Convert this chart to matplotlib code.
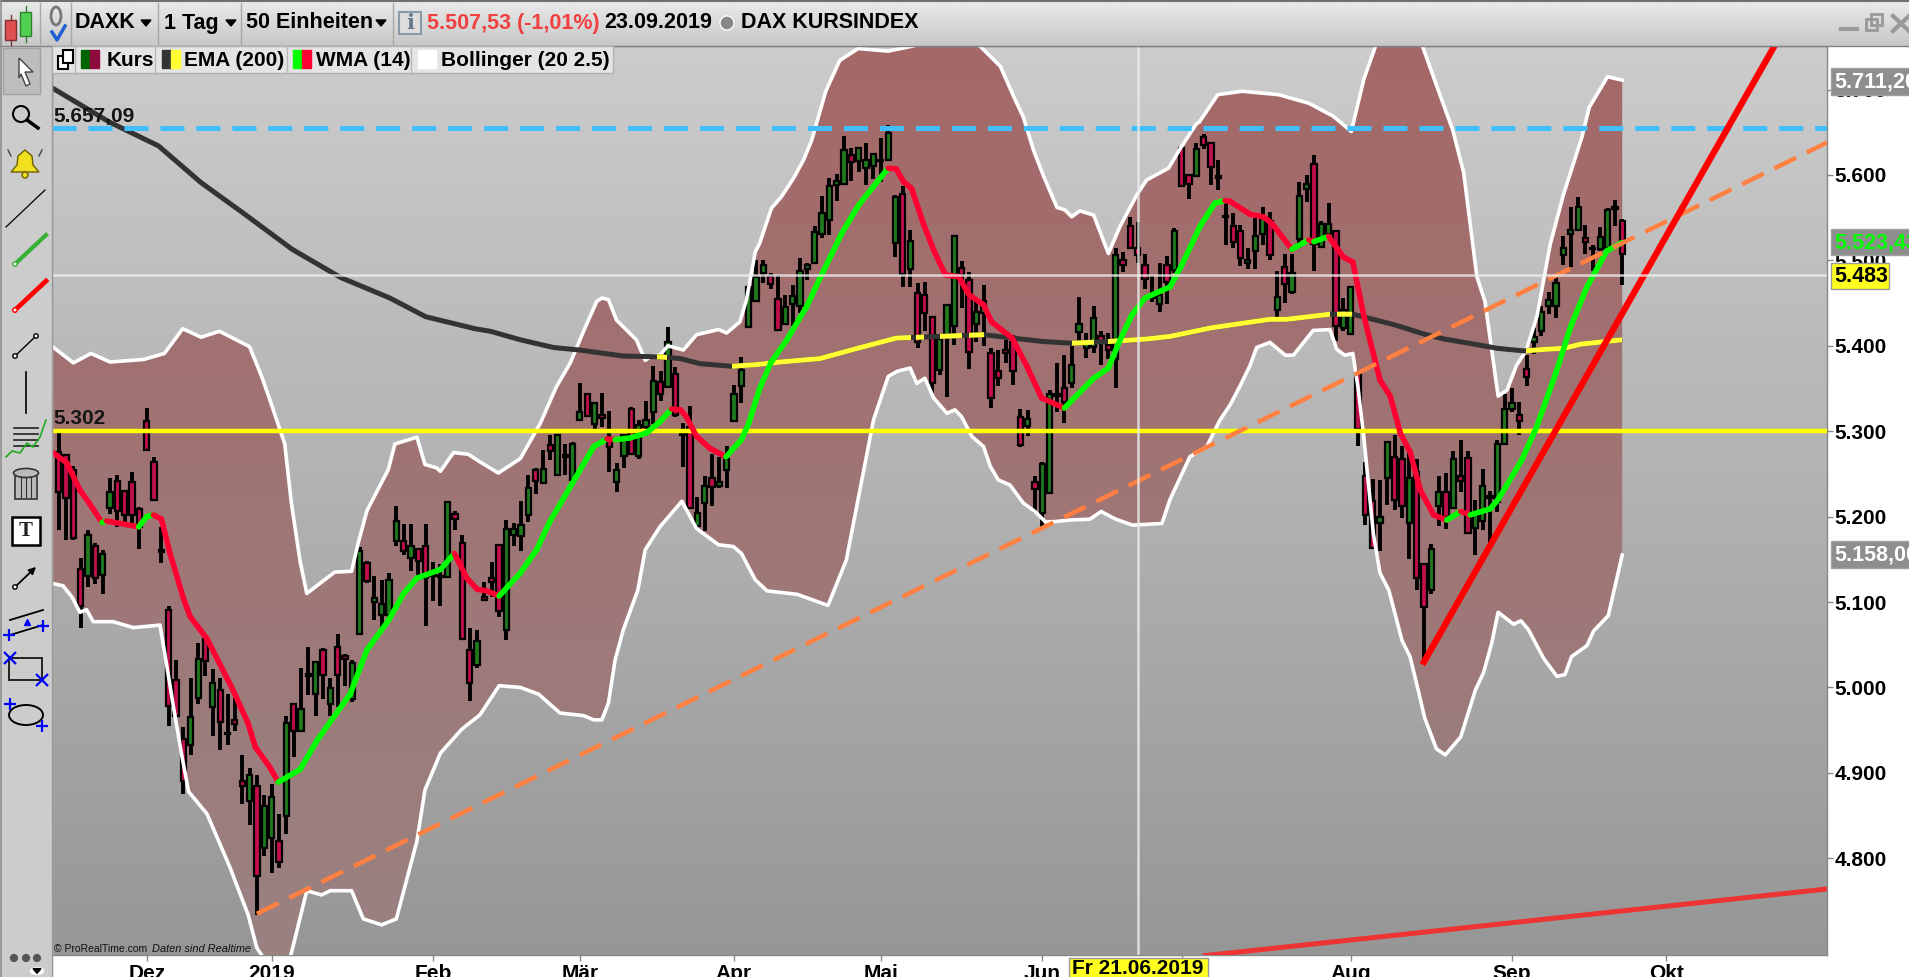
import matplotlib
matplotlib.use("Agg")
import matplotlib.pyplot as plt
import numpy as np
from matplotlib.patches import Rectangle, Polygon, Circle, Ellipse

plt.rcParams['font.family'] = ['Liberation Sans', 'DejaVu Sans']
plt.rcParams['lines.scale_dashes'] = False

# daily candles, one row per ten bars
highs = [5298,5272,5259,5151,5184,5169,5161,5245,5249,5231,
         5252,5211,5327,5270,5188,5095,5032,4954,5011,5052,
         5058,5021,5011,4992,4988,4921,4906,4897,4874,4887,
         4852,4966,4980,5023,5047,5031,5046,5011,5062,5039,
         5032,5164,5148,5131,5126,5134,5212,5191,5191,5163,
         5191,5147,5145,5218,5207,5179,5069,5067,5123,5147,
         5168,5196,5193,5218,5249,5257,5278,5296,5297,5285,
         5287,5356,5344,5333,5345,5324,5263,5296,5328,5313,
         5335,5376,5370,5422,5375,5310,5330,5223,5248,5273,
         5270,5283,5354,5387,5472,5501,5501,5485,5483,5460,
         5471,5503,5497,5540,5575,5597,5601,5646,5632,5633,
         5638,5625,5643,5659,5577,5587,5535,5474,5475,5435,
         5413,5449,5528,5499,5486,5452,5471,5397,5395,5407,
         5413,5326,5325,5247,5264,5348,5380,5389,5400,5457,
         5415,5447,5417,5415,5515,5510,5551,5545,5508,5483,
         5497,5505,5538,5632,5601,5638,5648,5638,5617,5567,
         5555,5542,5514,5550,5563,5557,5487,5507,5508,5592,
         5600,5623,5546,5567,5536,5456,5470,5372,5264,5244,
         5243,5288,5295,5283,5277,5268,5145,5168,5248,5251,
         5277,5290,5277,5220,5256,5230,5290,5344,5351,5334,
         5389,5421,5446,5463,5483,5529,5563,5574,5541,5518,
         5539,5561,5571,5549]
lows = [5184,5173,5173,5070,5117,5121,5109,5203,5188,5194,
        5192,5162,5277,5218,5146,4955,4966,4875,4921,4980,
        5013,4943,4927,4933,4949,4863,4839,4734,4803,4783,
        4789,4828,4918,4948,4991,4967,4986,4966,4977,5002,
        4983,5062,5122,5079,5067,5078,5165,5155,5136,5130,
        5072,5101,5095,5128,5184,5057,4984,5023,5101,5106,
        5083,5056,5165,5160,5194,5227,5239,5266,5249,5249,
        5241,5313,5317,5303,5305,5252,5229,5257,5273,5267,
        5294,5309,5335,5352,5317,5258,5210,5188,5183,5212,
        5234,5234,5311,5333,5422,5451,5474,5466,5419,5425,
        5423,5438,5477,5497,5526,5530,5569,5588,5593,5604,
        5588,5595,5592,5616,5504,5469,5469,5397,5417,5343,
        5366,5340,5401,5444,5373,5405,5400,5327,5353,5380,
        5354,5281,5294,5204,5186,5227,5323,5310,5350,5405,
        5386,5391,5378,5384,5350,5486,5513,5497,5467,5451,
        5440,5449,5485,5587,5572,5598,5630,5588,5582,5518,
        5514,5493,5490,5490,5518,5500,5433,5450,5461,5515,
        5568,5488,5515,5527,5406,5417,5414,5283,5190,5162,
        5160,5214,5208,5198,5150,5114,5030,5109,5189,5185,
        5209,5229,5181,5155,5184,5168,5205,5284,5323,5295,
        5353,5390,5411,5437,5433,5494,5492,5535,5508,5488,
        5511,5515,5540,5471]
opens = [5276,5272,5255,5139,5130,5166,5132,5210,5242,5230,
         5240,5209,5312,5264,5161,5091,5009,4940,4932,4988,
         5057,4977,4997,4947,4962,4891,4867,4885,4812,4824,
         4820,4850,4980,4949,5013,4992,5044,4981,5047,5037,
         4986,5063,5146,5100,5085,5085,5172,5172,5151,5162,
         5166,5130,5129,5129,5203,5169,5044,5026,5106,5128,
         5167,5067,5179,5177,5202,5255,5239,5284,5249,5272,
         5243,5313,5343,5309,5319,5291,5241,5271,5326,5271,
         5305,5322,5358,5352,5367,5297,5305,5189,5216,5245,
         5236,5255,5312,5353,5422,5452,5485,5482,5455,5426,
         5449,5447,5490,5497,5531,5547,5588,5590,5623,5616,
         5608,5610,5618,5617,5520,5578,5490,5462,5460,5434,
         5372,5413,5423,5491,5477,5425,5438,5391,5371,5395,
         5405,5317,5306,5241,5204,5228,5341,5350,5357,5416,
         5397,5399,5412,5401,5385,5500,5540,5514,5494,5456,
         5449,5494,5489,5631,5600,5599,5644,5638,5599,5552,
         5540,5534,5497,5511,5531,5546,5442,5492,5463,5525,
         5584,5613,5516,5531,5534,5421,5414,5369,5248,5218,
         5193,5245,5270,5268,5193,5252,5145,5114,5212,5229,
         5210,5247,5269,5187,5195,5222,5217,5285,5326,5319,
         5373,5405,5417,5447,5447,5506,5531,5536,5526,5513,
         5513,5515,5560,5546]
closes = [5229,5222,5175,5095,5179,5128,5156,5229,5207,5202,
          5202,5188,5278,5219,5159,4978,4967,4891,4965,5033,
          5031,5005,4959,4945,4957,4885,4897,4779,4861,4872,
          4796,4958,4949,4975,5016,5030,5014,4999,5014,5033,
          5029,5160,5125,5105,5098,5126,5195,5160,5165,5148,
          5128,5132,5131,5217,5197,5057,5005,5054,5102,5124,
          5089,5186,5186,5190,5233,5242,5256,5277,5296,5270,
          5285,5323,5318,5333,5315,5282,5255,5296,5273,5307,
          5313,5359,5344,5405,5319,5295,5210,5204,5236,5235,
          5241,5268,5344,5372,5469,5481,5495,5472,5419,5445,
          5458,5488,5495,5533,5556,5587,5593,5629,5615,5631,
          5618,5625,5616,5649,5574,5484,5523,5405,5438,5356,
          5408,5448,5528,5483,5393,5440,5452,5339,5362,5391,
          5370,5284,5314,5232,5262,5343,5343,5334,5377,5426,
          5403,5432,5405,5395,5506,5494,5514,5506,5478,5458,
          5460,5475,5534,5587,5590,5630,5635,5609,5597,5551,
          5521,5503,5501,5528,5549,5506,5457,5472,5485,5575,
          5589,5519,5543,5543,5423,5442,5469,5302,5202,5163,
          5200,5287,5219,5212,5245,5128,5094,5162,5229,5199,
          5268,5242,5181,5203,5236,5224,5285,5326,5333,5312,
          5363,5410,5440,5454,5474,5514,5536,5563,5522,5515,
          5527,5559,5563,5508]

# bollinger bands (bar number, price)
upper_x = [-1,2,4.4,7,11.6,14.4,16.9,19.4,21.9,26,27.7,28.8,30.8,31.7,32.9,33.8,37.6,39.9,40.8,42,
           44.9,45.8,48.8,49.9,51.5,52,53.8,55.8,57.4,59.9,62.9,65.6,67.8,69.7,71.5,73.3,74,74.9,76,78.7,
           79.9,80.8,81.9,83,85.1,86.9,89.9,91,92.8,93.7,94.9,95.5,97.1,98.5,100.1,101.5,102.6,103.5,104.5,106.4,
           108.9,113,116.4,120.6,125.5,128.3,130.3,131.4,132.8,134.2,136,137.1,138,139.1,141,143,144.6,146.9,148.2,151.2,
           152.8,155,155.4,157.9,161.2,166.2,170.3,173.6,176.1,177.8,179.4,181.9,185.2,187.7,189.9,191.4,193.2,194.3,196.1,197.3,
           198.6,199.9,201.4,203.2,205,207.5,208.5,211,213]
upper_y = [5400,5380,5391,5381,5384,5391,5420,5410,5417,5399,5363,5336,5285,5216,5147,5110,5135,5136,5169,5207,
           5255,5285,5293,5261,5257,5253,5275,5273,5264,5251,5268,5309,5352,5380,5417,5452,5456,5454,5430,5407,
           5383,5388,5389,5400,5395,5413,5419,5415,5428,5454,5510,5520,5561,5575,5596,5618,5641,5668,5698,5734,
           5748,5745,5751,5765,5751,5727,5688,5668,5629,5598,5562,5559,5551,5558,5553,5508,5540,5577,5594,5608,
           5631,5660,5662,5694,5698,5694,5684,5669,5651,5712,5751,5765,5765,5705,5653,5603,5481,5452,5341,5348,
           5377,5394,5435,5519,5577,5644,5679,5715,5711]
lower_x = [-1,0.6,1.8,2.9,3.8,4.7,7.4,10.2,13.8,14.7,15.6,16.8,17.7,20.2,23.3,25.8,27,27.7,29,31,
           31.7,33.8,35.8,37,39.9,41.5,44,46,48.8,49.9,52,54.9,57.4,60,62.9,65.4,68.3,71.5,72.9,74,
           74.9,75.8,76.9,78.9,79.9,81.9,84.9,86.9,89.9,91.9,93,94.9,96.5,100.6,104.8,107.3,108.9,111,113,114.2,
           116,116.9,118,119.2,121,122.1,123,124.4,126,126.9,128,129.6,131.4,133,134.4,135.5,137.8,140.5,142,144,
           146.3,150.3,151.4,154.1,156.4,158.2,159.6,161,162.3,163.2,165,167.1,168.2,170.9,173.2,174.1,175.2,176.3,177,177.8,
           179.1,180,181.2,183,184.1,185.2,186.1,187.7,188.9,191,193,194.1,195.2,196.1,198.2,199.2,200.2,202.3,204.1,205.2,
           206.1,208.2,209.1,211.1,213]
lower_y = [5122,5119,5106,5088,5091,5077,5077,5070,5073,5027,4979,4919,4878,4852,4790,4734,4695,4686,4660,4670,
           4689,4762,4757,4762,4762,4729,4722,4729,4820,4880,4923,4951,4968,5002,5000,4992,4970,4967,4962,4962,
           4982,5032,5067,5114,5161,5188,5218,5186,5167,5165,5157,5126,5113,5109,5096,5149,5220,5313,5364,5370,
           5374,5356,5362,5339,5321,5325,5317,5294,5282,5259,5243,5237,5216,5206,5194,5194,5196,5197,5206,5197,
           5190,5192,5220,5270,5282,5313,5331,5354,5377,5398,5404,5389,5389,5418,5419,5396,5389,5391,5352,5293,
           5180,5134,5114,5055,5036,4997,4964,4928,4921,4942,4997,5017,5051,5088,5074,5078,5068,5034,5013,5015,
           5036,5049,5066,5084,5155]

# wma 14, green while rising and red while falling
wma_x = [-1,1.1,2.9,4.3,5.9,6.5,10.9,12,12.9,14,15.2,17,17.9,20.2,23.8,25.8,26.8,28.8,29.9,32.9,
         35.2,39.7,42,44.9,47,48.8,52,53.9,55.6,57,58.3,60,62.9,65.1,66.9,69.7,72.9,74.7,75.8,77.8,
         80.1,81.9,83.5,84.7,85.5,86.9,88.7,90.9,93,94,95.5,97,99.2,101.9,103.7,106.7,109,113,114.1,115.1,
         116.2,117.8,119.2,120.8,122.6,124,126,127.1,129.9,131.9,133.9,137,141,143,144.6,146.2,148,151.4,152.8,155.5,
         157.5,158.9,159.6,162.3,164.1,165.3,168,170.3,171,173,175,176.3,177.8,180,181.4,182.8,184.1,185.5,187.3,189.1,
         191,192.3,195,196.1,199.3,201.3,204,206,208.2,210.9,213]
wma_y = [5276,5263,5231,5214,5193,5195,5188,5200,5202,5197,5156,5104,5083,5057,4996,4958,4930,4906,4889,4904,
         4938,4992,5044,5078,5110,5128,5138,5157,5128,5115,5113,5107,5134,5161,5194,5235,5282,5291,5290,5292,
         5298,5311,5326,5325,5317,5294,5280,5270,5290,5309,5350,5380,5407,5446,5479,5532,5565,5608,5607,5592,
         5584,5543,5512,5483,5481,5460,5448,5428,5409,5376,5339,5327,5362,5374,5407,5436,5456,5469,5491,5540,
         5567,5570,5569,5554,5551,5543,5513,5524,5522,5528,5504,5498,5435,5360,5341,5297,5276,5231,5202,5196,
         5206,5202,5209,5220,5266,5304,5369,5423,5469,5511,5521]

# ema 200 and the bar ranges where it is drawn yellow
ema_x = [-0.9,6.9,13.6,19.4,25.2,31.8,38.4,45.1,50,56.7,58.8,62.9,67.4,71,76.9,81.9,84.7,87.4,91.7,95.1,
         98.3,103.7,108.8,114.1,120.1,126,130,134.1,138,143,148.3,151.4,157,161,165,167.3,173.2,176.3,181.8,185.9,
         188.7,192.8,196,199.6,202.8,205,207.4,213]
ema_y = [5702,5662,5634,5591,5555,5513,5480,5456,5434,5420,5417,5407,5398,5395,5388,5387,5385,5379,5376,5378,
         5381,5385,5397,5409,5411,5413,5409,5405,5403,5405,5408,5411,5421,5426,5431,5431,5437,5437,5425,5414,
         5408,5402,5397,5394,5396,5397,5402,5407]
ema_yellow = [(81.5,82.9),(91.7,116.1),(116.8,117.9),(120.1,123),(124,126),(138,141),(143,173.2),(174.1,176.2),(199.9,213)]

support_level = 5300
resist_level = 5655
cross_bar = 147
cross_price = 5483
orange_x = [27, 240.9]
orange_y = [4735, 5638]
red_x = [186, 233.8]
red_y = [5030, 5752]
low_red_x = [156.2, 240.9]
low_red_y = [4686, 4764]

y_ticks = [4800,4900,5000,5100,5200,5300,5400,5500,5600,5700]
y_labels = ['4.800','4.900','5.000','5.100','5.200','5.300','5.400','5.500','5.600','5.700']
x_ticks = [12,29,51,71,92,112,134,153,176,198,219]
x_labels = ['Dez','2019','Feb','Mär','Apr','Mai','Jun','','Aug','Sep','Okt']

W, H = 1909, 977
fig = plt.figure(figsize=(W/100, H/100), dpi=100, facecolor='white')
ax = fig.add_axes([52/W, 1-955/H, (1827-52)/W, (955-46)/H], zorder=1)
xlim = (-0.91, 240.9)
ylim = (4686.7, 5751)
extent = [xlim[0], xlim[1], ylim[0], ylim[1]]

# background gradient
t = np.linspace(0, 1, 256).reshape(-1, 1, 1)
bg = (0.80 + (0.59-0.80)*t) * np.ones((256, 1, 3))
ax.imshow(bg, extent=extent, aspect='auto', zorder=0)

# band fill
band = Polygon(np.column_stack([upper_x + lower_x[::-1], upper_y + lower_y[::-1]]),
               closed=True, facecolor='none', edgecolor='none', transform=ax.transData)
ax.add_patch(band)
top_col = np.array([165, 104, 104])/255
bot_col = np.array([154, 130, 130])/255
fill = top_col + (bot_col-top_col)*np.linspace(0, 1, 256).reshape(-1, 1, 1)
fill = fill.reshape(256, 1, 3)
im = ax.imshow(fill, extent=extent, aspect='auto', zorder=1)
im.set_clip_path(band)

# candles
idx = np.arange(len(opens))
o = np.array(opens)
c = np.array(closes)
cols = np.where(c >= o, '#1f7a1f', '#c20f4c')
ax.vlines(idx, lows, highs, color='black', lw=2.8, zorder=3)
ax.bar(idx, np.abs(c-o), bottom=np.minimum(o, c), width=0.72, color=cols,
       edgecolor='black', lw=1.6, zorder=3.1)

# bollinger lines
ax.plot(upper_x, upper_y, color='white', lw=2.6, zorder=4)
ax.plot(lower_x, lower_y, color='white', lw=2.6, zorder=4)

# ema
ax.plot(ema_x, ema_y, color='#333333', lw=3.6, zorder=5, solid_capstyle='butt')
for a, b in ema_yellow:
    line, = ax.plot(ema_x, ema_y, color='#ffff33', lw=3.6, zorder=5.1, solid_capstyle='butt')
    line.set_clip_path(Rectangle((a, ylim[0]), b-a, ylim[1]-ylim[0], transform=ax.transData))

# wma
for i in range(len(wma_x)-1):
    col = '#00ff00' if wma_y[i+1] >= wma_y[i] else '#ff0033'
    ax.plot(wma_x[i:i+2], wma_y[i:i+2], color=col, lw=4.0, zorder=6, solid_capstyle='round')

# levels and trend lines
ax.axhline(support_level, color='#ffff00', lw=3.2, zorder=5.5)
ax.plot(xlim, [resist_level, resist_level], color='#3fbfff', lw=3.6, dashes=(17.3, 8.6), zorder=5.5)
ax.plot(orange_x, orange_y, color='#ff8040', lw=3.2, dashes=(17.3, 8.6), zorder=6.5)
ax.plot(red_x, red_y, color='#ff0000', lw=4.6, zorder=6.5)
ax.plot(low_red_x, low_red_y, color='#ee3333', lw=3.6, zorder=6.5)
ax.axhline(cross_price, color='#eeeeee', lw=1.8, alpha=0.8, zorder=7)
ax.axvline(cross_bar, color='#eeeeee', lw=1.8, alpha=0.8, zorder=7)

ax.set_xlim(xlim)
ax.set_ylim(ylim)
ax.yaxis.tick_right()
ax.set_yticks(y_ticks)
ax.set_yticklabels(y_labels, fontsize=15, fontweight='bold', color='black')
ax.set_xticks(x_ticks)
ax.set_xticklabels(x_labels, fontsize=15, fontweight='bold', color='black')
ax.tick_params(axis='y', length=4, width=1, color='#888888', pad=1.5)
ax.tick_params(axis='x', length=4, width=1, color='#888888', pad=2.5)
for s in ax.spines.values():
    s.set_color('#888888')
    s.set_linewidth(1)

ax.text(-0.7, 5657.3, '5.657,09', fontsize=15, fontweight='bold', color='#151515', va='bottom', zorder=8)
ax.text(-0.7, 5303.7, '5.302', fontsize=15, fontweight='bold', color='#151515', va='bottom', zorder=8)

# window chrome drawn in pixel coordinates
ui = fig.add_axes([0, 0, 1, 1], zorder=2)
ui.set_xlim(0, W)
ui.set_ylim(H, 0)
ui.axis('off')
ui.patch.set_alpha(0)

topbar = np.linspace(0.92, 0.78, 64).reshape(-1, 1) * np.ones((64, 1))
ui.imshow(topbar, extent=[0, W, 46, 0], cmap='gray', vmin=0, vmax=1, aspect='auto', zorder=0)
ui.set_xlim(0, W)
ui.set_ylim(H, 0)
ui.add_patch(Rectangle((0, 46), 52, H-46, color='#cccccc', zorder=1))
ui.plot([0, W], [1, 1], color='#707070', lw=1.5, zorder=2)
ui.plot([0, W], [45.5, 45.5], color='#808080', lw=1, zorder=2)
ui.plot([1, 1], [0, H], color='#909090', lw=1.2, zorder=2)
ui.plot([52, 52], [46, H], color='#999999', lw=1, zorder=2)
for xs in [40, 71, 158, 241, 393]:
    ui.plot([xs, xs], [3, 44], color='#a8a8a8', lw=1, zorder=2)

def label(x, y, s, **kw):
    kw.setdefault('fontsize', 15)
    kw.setdefault('fontweight', 'bold')
    kw.setdefault('color', 'black')
    kw.setdefault('va', 'center')
    kw.setdefault('zorder', 6)
    return ui.text(x, y, s, **kw)

def tri(x, y, size=5, col='black'):
    ui.add_patch(Polygon([(x-size, y-size*0.6), (x+size, y-size*0.6), (x, y+size*0.6)], color=col, zorder=6))

# top toolbar
ui.add_patch(Rectangle((5, 20), 11, 20, fc='#e05050', ec='#803030', zorder=5))
ui.plot([10.5, 10.5], [15, 45], color='#803030', lw=1, zorder=4)
ui.add_patch(Rectangle((20, 12), 11, 24, fc='#50d050', ec='#308030', zorder=5))
ui.plot([25.5, 25.5], [6, 42], color='#308030', lw=1, zorder=4)
ui.add_patch(Ellipse((56, 16), 10, 18, fc='none', ec='#777777', lw=2, zorder=5))
ui.plot([52, 57, 65], [32, 40, 26], color='#2060d0', lw=2.5, zorder=5)
label(75, 23, 'DAXK', fontsize=15.5)
tri(146, 23)
label(164, 23, '1 Tag', fontsize=15.5)
tri(231, 23)
label(246, 23, '50 Einheiten', fontsize=15.5)
tri(381, 23)
ui.add_patch(Rectangle((399, 12), 22, 22, fc='#dddddd', ec='#8899aa', lw=1.5, zorder=5))
label(410, 23, 'i', color='#667788', ha='center', fontsize=15, family='DejaVu Serif')
label(427, 23, '5.507,53 (-1,01%)', color='#f04040', fontsize=15.5)
label(604, 23, '23.09.2019', fontsize=15.5)
ui.add_patch(Circle((727, 23), 7, fc='#888888', ec='white', lw=1, zorder=5))
label(741, 23, 'DAX KURSINDEX', fontsize=15.5)
ui.plot([1841, 1857], [29, 29], color='#999999', lw=3, zorder=5)
ui.add_patch(Rectangle((1866, 19), 11, 11, fc='none', ec='#999999', lw=2, zorder=5))
ui.add_patch(Rectangle((1871, 14), 11, 11, fc='none', ec='#999999', lw=2, zorder=4))
ui.plot([1893, 1909], [16, 31], color='#999999', lw=3, zorder=5)
ui.plot([1893, 1909], [31, 16], color='#999999', lw=3, zorder=5)

# legend strip
ui.add_patch(Rectangle((52, 46), 561, 27, fc='#e4e4e4', ec='#b0b0b0', lw=1, zorder=3))
for xs in [75, 155, 287, 411]:
    ui.plot([xs, xs], [46, 73], color='#b8b8b8', lw=1, zorder=4)
ui.add_patch(Rectangle((58, 56), 10, 13, fc='white', ec='black', lw=1.5, zorder=4))
ui.add_patch(Rectangle((63, 50), 10, 13, fc='white', ec='black', lw=1.5, zorder=4))
ui.add_patch(Rectangle((81, 50), 9, 18, color='#006400', zorder=4))
ui.add_patch(Rectangle((90, 50), 9, 18, color='#8c0a3c', zorder=4))
label(107, 60, 'Kurs')
ui.add_patch(Rectangle((162, 50), 9, 18, color='#333333', zorder=4))
ui.add_patch(Rectangle((171, 50), 9, 18, color='#ffff33', zorder=4))
label(184, 60, 'EMA (200)')
ui.add_patch(Rectangle((293, 50), 9, 18, color='#00ff00', zorder=4))
ui.add_patch(Rectangle((302, 50), 9, 18, color='#ff0033', zorder=4))
label(316, 60, 'WMA (14)')
ui.add_patch(Rectangle((418, 50), 18, 18, color='white', zorder=4))
label(441, 60, 'Bollinger (20 2.5)')

# side toolbar
ui.add_patch(Rectangle((3, 48), 37, 46, fc='#bdbdbd', ec='#a0a0a0', lw=1, zorder=3))
ui.add_patch(Polygon([(19, 58), (33, 72), (25, 72), (30, 84), (26, 86), (21, 74), (19, 78)], fc='white', ec='#444444', lw=1, zorder=4))
ui.add_patch(Circle((21, 114), 8, fc='none', ec='black', lw=1.5, zorder=4))
ui.plot([27, 38], [120, 128], color='black', lw=2.5, zorder=4)
ui.add_patch(Polygon([(11, 172), (17, 165), (18, 156), (25, 150), (32, 156), (33, 165), (39, 172)], fc='#f0e020', ec='#706000', lw=1, zorder=4))
ui.add_patch(Circle((25, 175), 3, fc='#f0e020', ec='#706000', zorder=4))
ui.plot([8, 11], [150, 156], color='#444444', lw=1, zorder=4)
ui.plot([42, 39], [150, 156], color='#444444', lw=1, zorder=4)
ui.plot([6, 45], [227, 190], color='black', lw=0.9, zorder=4)
ui.plot([15, 46], [264, 235], color='#38b038', lw=3, zorder=4)
ui.add_patch(Circle((15, 264), 2.2, fc='white', ec='#38b038', zorder=5))
ui.plot([15, 46], [310, 281], color='#ff0000', lw=3.4, zorder=4)
ui.add_patch(Circle((15, 310), 2.2, fc='white', ec='#ff0000', zorder=5))
ui.plot([15, 36], [356, 336], color='black', lw=1, zorder=4)
ui.add_patch(Circle((15, 356), 2.2, fc='white', ec='black', zorder=5))
ui.add_patch(Circle((36, 336), 2.2, fc='white', ec='black', zorder=5))
ui.plot([26, 26], [372, 413], color='black', lw=1.2, zorder=4)
for yy in [428, 434, 440, 446]:
    ui.plot([14, 38], [yy, yy], color='#222222', lw=1.2, zorder=4)
ui.plot([6, 12, 20, 27, 33, 40, 46], [457, 451, 453, 443, 447, 437, 420], color='#22aa22', lw=1.2, zorder=5)
ui.add_patch(Rectangle((15, 473), 22, 26, fc='#bbbbbb', ec='#333333', lw=1.2, zorder=4))
ui.add_patch(Ellipse((26, 473), 25, 9, fc='#bbbbbb', ec='#333333', lw=1.2, zorder=5))
for xs in [21, 26, 31]:
    ui.plot([xs, xs], [477, 497], color='#333333', lw=0.8, zorder=5)
ui.add_patch(Rectangle((12, 517), 28, 28, fc='white', ec='black', lw=1.8, zorder=4))
ui.text(26, 531, 'T', fontsize=15, fontweight='bold', family='Liberation Serif', ha='center', va='center', color='#222222', zorder=5)
ui.annotate('', xy=(38, 565), xytext=(15, 587), arrowprops=dict(arrowstyle='-|>', color='black', lw=1.3), zorder=4)
ui.add_patch(Circle((15, 587), 2.2, fc='white', ec='black', zorder=5))
ui.plot([10, 43], [620, 610], color='black', lw=1.3, zorder=4)
ui.plot([10, 43], [635, 625], color='black', lw=1.3, zorder=4)
ui.plot([9, 43], [635, 626], lw=0, marker='+', mec='#0000ff', ms=8, mew=1.6, zorder=5)
ui.plot([27], [622], marker='^', color='#0000ff', ms=5, zorder=5)
ui.add_patch(Rectangle((9, 658), 33, 22, fc='none', ec='#222222', lw=1.4, zorder=4))
ui.plot([10, 42], [658, 680], lw=0, marker='x', mec='#0000ff', ms=8, mew=1.6, zorder=5)
ui.add_patch(Ellipse((26, 715), 34, 20, fc='none', ec='black', lw=1.4, zorder=4))
ui.plot([10, 42], [704, 726], lw=0, marker='+', mec='#0000ff', ms=8, mew=1.6, zorder=5)
for xs in [14, 26, 37]:
    ui.add_patch(Circle((xs, 958), 3.4, color='#555555', zorder=4))
ui.add_patch(Ellipse((37, 971), 13, 7, color='white', zorder=4))
tri(37, 971, 4)

# copyright text
label(54, 949, '© ProRealTime.com', fontsize=7.5, fontweight='normal', color='#111111')
label(152, 949, 'Daten sind Realtime', fontsize=7.9, fontweight='normal', style='italic', color='#111111')

# price boxes on the right
ui.add_patch(Rectangle((1831, 68), 80, 27, fc='#8e8e8e', ec='#a0a0a0', zorder=4))
label(1834, 82, '5.711,20', color='white', fontsize=15.5)
ui.add_patch(Rectangle((1831, 229), 80, 26, fc='#8e8e8e', ec='#a0a0a0', zorder=4))
label(1834, 243, '5.523,43', color='#00ff00', fontsize=15.5)
ui.add_patch(Rectangle((1831, 263), 58, 26, fc='#ffff20', ec='#999999', zorder=4))
label(1834, 276.5, '5.483', fontsize=15.5)
ui.add_patch(Rectangle((1831, 541), 80, 27, fc='#8e8e8e', ec='#a0a0a0', zorder=4))
label(1834, 555, '5.158,00', color='white', fontsize=15.5)

# date box under the crosshair
ui.add_patch(Rectangle((1069, 958), 139, 22, fc='#ffff20', ec='#999999', zorder=4))
label(1138, 969, 'Fr 21.06.2019', ha='center', fontsize=15)

fig.savefig('out.png', dpi=100)
